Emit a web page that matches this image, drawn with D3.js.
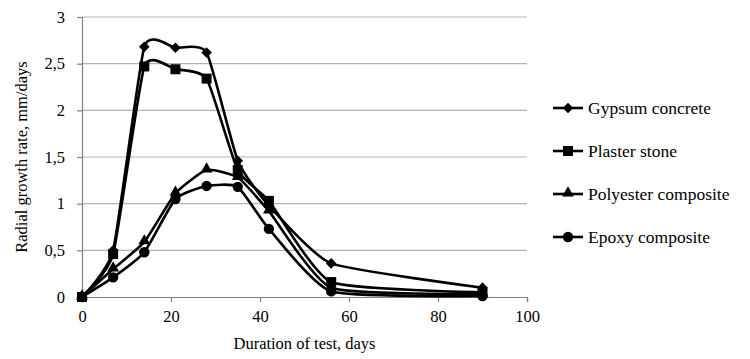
<!DOCTYPE html>
<html>
<head>
<meta charset="utf-8">
<script src="https://cdn.jsdelivr.net/npm/d3@7"></script>
<style>
  html, body { margin: 0; padding: 0; background: #fff; }
  svg { display: block; }
  text { font-family: "Liberation Serif", "Times New Roman", serif; fill: #000; }
</style>
</head>
<body>
<svg id="chart" width="750" height="359"></svg>
<script>
const days = [0, 7, 14, 21, 28, 35, 42, 56, 90];
const seriesNames = ["Gypsum concrete", "Plaster stone", "Polyester composite", "Epoxy composite"];
const gypsumConcrete = [0, 0.5, 2.68, 2.67, 2.62, 1.46, 0.98, 0.36, 0.1];
const plasterStone = [0, 0.46, 2.47, 2.44, 2.34, 1.36, 1.03, 0.16, 0.05];
const polyesterComposite = [0, 0.3, 0.59, 1.11, 1.36, 1.28, 0.92, 0.1, 0.03];
const epoxyComposite = [0, 0.21, 0.48, 1.05, 1.19, 1.18, 0.73, 0.06, 0.01];
const xTicks = [0, 20, 40, 60, 80, 100];
const yTicks = [0, 0.5, 1, 1.5, 2, 2.5, 3];
const markerTypes = ["diamond", "square", "triangle", "circle"];

const seriesValues = [gypsumConcrete, plasterStone, polyesterComposite, epoxyComposite];
const FONT = "Liberation Serif";

const svg = d3.select("#chart");
const x = d3.scaleLinear().domain([0, 100]).range([82, 527]);
const y = d3.scaleLinear().domain([0, 3]).range([297, 17]);

const fmt = d => String(d).replace(".", ",");

// gridlines
svg.append("g")
  .selectAll("line")
  .data(yTicks.filter(t => t > 0))
  .join("line")
  .attr("x1", x(0)).attr("x2", x(100))
  .attr("y1", d => y(d)).attr("y2", d => y(d))
  .attr("stroke", "#b4b4b4").attr("stroke-width", 1.2);

// y axis
const yAxis = svg.append("g")
  .attr("transform", `translate(${x(0)},0)`)
  .call(d3.axisLeft(y).tickValues(yTicks).tickFormat(fmt).tickSize(5).tickPadding(12));
// x axis
const xAxis = svg.append("g")
  .attr("transform", `translate(0,${y(0)})`)
  .call(d3.axisBottom(x).tickValues(xTicks).tickSize(5).tickPadding(8));

[yAxis, xAxis].forEach(a => {
  a.attr("font-family", FONT).attr("font-size", 16.5);
  a.select(".domain").attr("stroke", "#7f7f7f").attr("stroke-width", 1.2);
  a.selectAll(".tick line").attr("stroke", "#7f7f7f").attr("stroke-width", 1.2);
  a.selectAll(".tick text").attr("font-family", FONT).attr("font-size", 16.5).attr("fill", "#000");
});

// axis titles
svg.append("text")
  .attr("x", (x(0) + x(100)) / 2).attr("y", 349)
  .attr("text-anchor", "middle").attr("font-family", FONT).attr("font-size", 16.5)
  .text("Duration of test, days");
svg.append("text")
  .attr("transform", `translate(27,${(y(0) + y(3)) / 2}) rotate(-90)`)
  .attr("text-anchor", "middle").attr("font-family", FONT).attr("font-size", 16.5)
  .text("Radial growth rate, mm/days");

const line = d3.line().x(d => x(d[0])).y(d => y(d[1])).curve(d3.curveCardinal.tension(0.5));

function symbolPath(type) {
  if (type === "diamond") return d3.symbol(d3.symbolSquare, 56)();
  if (type === "square") return d3.symbol(d3.symbolSquare, 100)();
  if (type === "triangle") return d3.symbol(d3.symbolTriangle, 60)();
  return d3.symbol(d3.symbolCircle, 85)();
}
function symbolTransform(type, px, py) {
  if (type === "diamond") return `translate(${px},${py}) rotate(45)`;
  if (type === "triangle") return `translate(${px},${py - 1})`;
  return `translate(${px},${py})`;
}

const lines = svg.append("g");
const marks = svg.append("g");
seriesValues.forEach((vals, i) => {
  const pts = days.map((d, j) => [d, vals[j]]);
  lines.append("path")
    .attr("d", line(pts))
    .attr("fill", "none").attr("stroke", "#000").attr("stroke-width", 2.6);
  marks.selectAll(null)
    .data(pts)
    .join("path")
    .attr("d", symbolPath(markerTypes[i]))
    .attr("transform", d => symbolTransform(markerTypes[i], x(d[0]), y(d[1])))
    .attr("fill", "#000");
});

// legend
const legendY = [108, 151, 194, 237];
const legend = svg.append("g");
seriesNames.forEach((name, i) => {
  const ly = legendY[i];
  legend.append("line").attr("x1", 553).attr("x2", 583).attr("y1", ly).attr("y2", ly)
    .attr("stroke", "#000").attr("stroke-width", 2.6);
  legend.append("path").attr("d", symbolPath(markerTypes[i]))
    .attr("transform", symbolTransform(markerTypes[i], 568, ly)).attr("fill", "#000");
  legend.append("text").attr("x", 588).attr("y", ly + 6)
    .attr("font-family", FONT).attr("font-size", 17.5).text(name);
});
</script>
</body>
</html>
